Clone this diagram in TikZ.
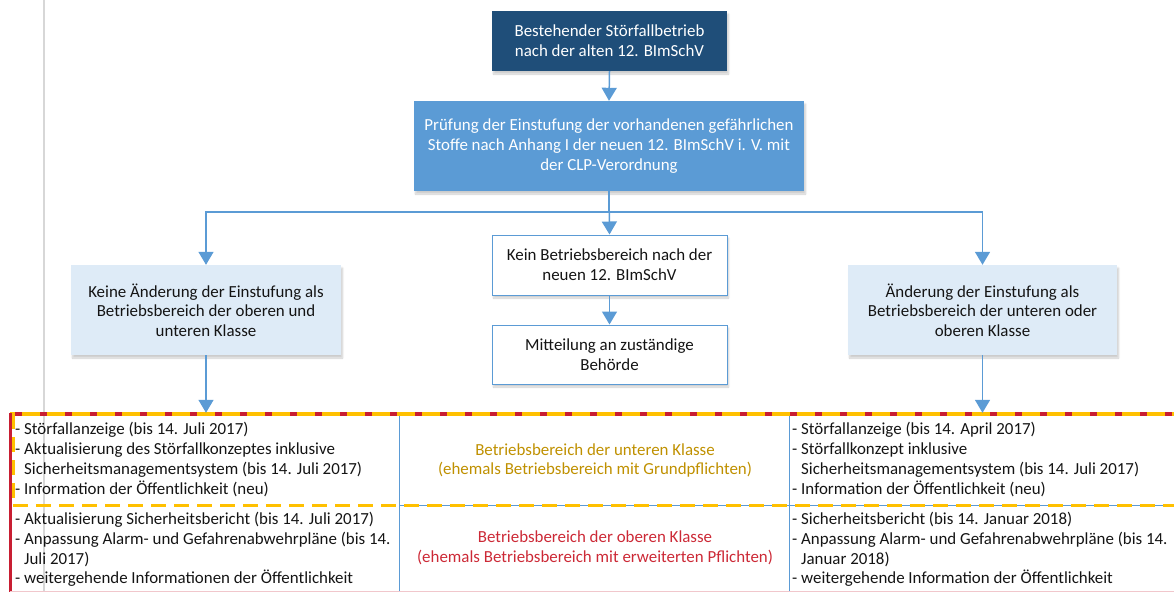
\documentclass[tikz,border=0pt]{standalone}
\usepackage{fontspec}
\setmainfont{Carlito}
\usetikzlibrary{arrows.meta,shadows.blur}
\definecolor{darkbox}{RGB}{31,78,121}
\definecolor{midbox}{RGB}{91,155,213}
\definecolor{lightbox}{RGB}{222,235,247}
\definecolor{lineblue}{RGB}{91,155,213}
\definecolor{goldtxt}{RGB}{191,144,0}
\definecolor{redtxt}{RGB}{204,41,54}
\definecolor{yellowdash}{RGB}{255,192,0}
\definecolor{reddash}{RGB}{200,30,50}
\definecolor{guide}{RGB}{215,215,215}
\definecolor{txt}{RGB}{20,20,20}
\tikzset{
  shade box/.style={blur shadow={shadow xshift=1.5pt,shadow yshift=-3pt,shadow opacity=20,shadow blur steps=6}},
  box/.style={rectangle,inner sep=0pt,align=center,shade box,text=txt},
  darkstyle/.style={box,fill=darkbox,text=white},
  midstyle/.style={box,fill=midbox,text=white},
  lightstyle/.style={box,fill=lightbox},
  whitestyle/.style={box,fill=white,draw=lineblue,line width=1pt},
  cell/.style={rectangle,inner sep=0pt},
  celltext/.style={inner sep=0pt,align=left,anchor=west,text=txt},
  conn/.style={draw=lineblue,line width=1.5pt,-{Triangle[width=15pt,length=13pt]}},
}
\begin{document}
\begin{tikzpicture}[x=1pt,y=-1pt,font=\fontsize{16.9}{19.7}\selectfont]
\useasboundingbox (0,0) rectangle (1174,592);
% guide line
\draw[guide,line width=1.5pt] (44,0) -- (44,592);

% boxes
\node[darkstyle,minimum width=235pt,minimum height=60pt] (top) at (609.5,41)
  {Bestehender Störfallbetrieb\\nach der alten 12. BImSchV};
\node[midstyle,minimum width=390pt,minimum height=90pt] (pruef) at (609,146)
  {Prüfung der Einstufung der vorhandenen gefährlichen\\Stoffe nach Anhang I der neuen 12. BImSchV i. V. mit\\der CLP-Verordnung};
\node[lightstyle,minimum width=270pt,minimum height=90pt] (left) at (206,310)
  {Keine Änderung der Einstufung als\\Betriebsbereich der oberen und\\unteren Klasse};
\node[lightstyle,minimum width=269pt,minimum height=90pt] (right) at (982.5,310)
  {Änderung der Einstufung als\\Betriebsbereich der unteren oder\\oberen Klasse};
\node[whitestyle,minimum width=235pt,minimum height=60pt] (kein) at (609.5,265)
  {Kein Betriebsbereich nach der\\neuen 12. BImSchV};
\node[whitestyle,minimum width=235pt,minimum height=59pt] (mitt) at (609.5,354.5)
  {Mitteilung an zuständige\\Behörde};

% table cells (invisible frames)
\node[cell,minimum width=389pt,minimum height=92pt] (LU) at (205.5,459) {};
\node[cell,minimum width=389pt,minimum height=86pt] (LL) at (205.5,548) {};
\node[cell,minimum width=390pt,minimum height=92pt] (MU) at (595,459) {};
\node[cell,minimum width=390pt,minimum height=86pt] (ML) at (595,548) {};
\node[cell,minimum width=384pt,minimum height=92pt] (RU) at (982,459) {};
\node[cell,minimum width=384pt,minimum height=86pt] (RL) at (982,548) {};

% table lines
\draw[lineblue,line width=1pt] (MU.north west) -- (ML.south west);
\draw[lineblue,line width=1pt] (RU.north west) -- (RL.south west);
\draw[lineblue,line width=1pt] (MU.south west) -- (RU.south east);
\draw[yellowdash,line width=3pt,dash pattern=on 15pt off 8pt] (13,505) -- (1174,505);
\draw[yellowdash,line width=3pt,dash pattern=on 15pt off 8pt] (13,414) -- (13,505);
\draw[yellowdash,line width=3.5pt] (10,414) -- (1174,414);
\draw[reddash,line width=3.5pt,dash pattern=on 7pt off 18pt,dash phase=-5pt] (10,414) -- (1174,414);
\draw[reddash,line width=3.5pt] (10.5,412.5) -- (10.5,592);
\draw[reddash!25,line width=1pt] (10,591) -- (1174,591);

% table text
\node[celltext] (tLU) at (15,459.5)
  {- Störfallanzeige (bis 14. Juli 2017)\\- Aktualisierung des Störfallkonzeptes inklusive\\\hphantom{- }Sicherheitsmanagementsystem (bis 14. Juli 2017)\\- Information der Öffentlichkeit (neu)};
\node[celltext] (tLL) at (15,549.5)
  {- Aktualisierung Sicherheitsbericht (bis 14. Juli 2017)\\- Anpassung Alarm- und Gefahrenabwehrpläne (bis 14.\\\hphantom{- }Juli 2017)\\- weitergehende Informationen der Öffentlichkeit};
\node[inner sep=0pt,align=center,text=goldtxt] (tMU) at (595,460.5)
  {Betriebsbereich der unteren Klasse\\(ehemals Betriebsbereich mit Grundpflichten)};
\node[inner sep=0pt,align=center,text=redtxt] (tML) at (595,548)
  {Betriebsbereich der oberen Klasse\\(ehemals Betriebsbereich mit erweiterten Pflichten)};
\node[celltext] (tRU) at (792,459.5)
  {- Störfallanzeige (bis 14. April 2017)\\- Störfallkonzept inklusive\\\hphantom{- }Sicherheitsmanagementsystem (bis 14. Juli 2017)\\- Information der Öffentlichkeit (neu)};
\node[celltext] (tRL) at (792,549.5)
  {- Sicherheitsbericht (bis 14. Januar 2018)\\- Anpassung Alarm- und Gefahrenabwehrpläne (bis 14.\\\hphantom{- }Januar 2018)\\- weitergehende Information der Öffentlichkeit};

% connectors
\draw[conn] (top.south) -- (pruef.north);
\draw[conn] (pruef.south) -- (kein.north);
\draw[conn] (pruef.south) -- ++(0,21) -| (left.north);
\draw[conn] (pruef.south) -- ++(0,21) -| (right.north);
\draw[conn] (kein.south) -- (mitt.north);
\draw[conn] (left.south) -- (left.south |- LU.north);
\draw[conn] (right.south) -- (right.south |- RU.north);
\end{tikzpicture}
\end{document}
